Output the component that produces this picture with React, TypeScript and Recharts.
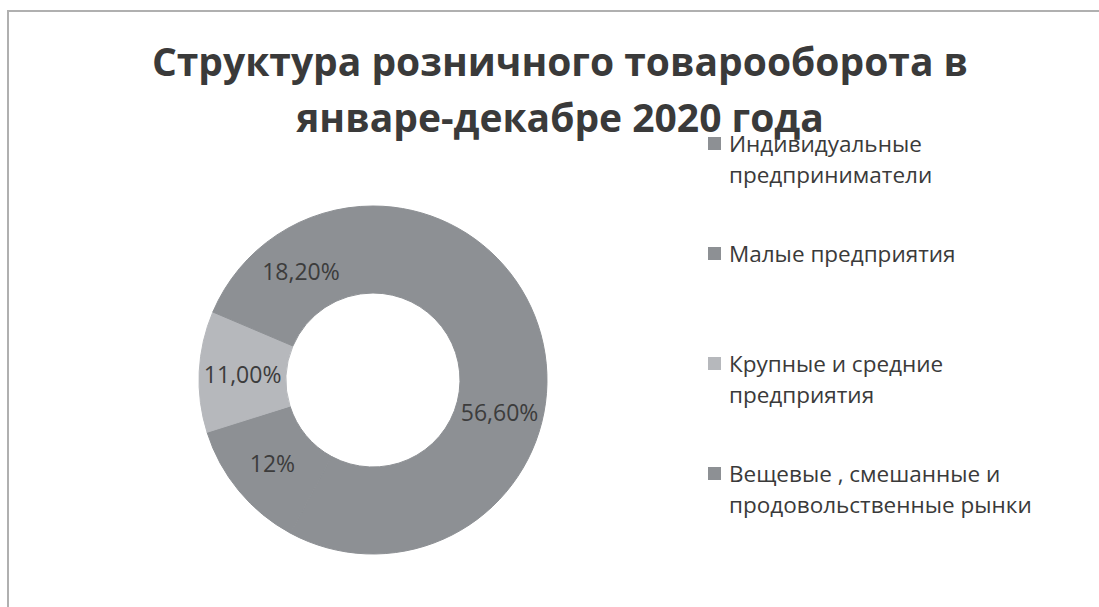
import React from 'react';
import { PieChart, Pie, Cell, Legend } from 'recharts';

const categories = [
  'Индивидуальные\nпредприниматели',
  'Малые предприятия',
  'Крупные и средние\nпредприятия',
  'Вещевые , смешанные и\nпродовольственные рынки',
];
const shares = [56.6, 12, 11, 18.2];
const shareLabels = ['56,60%', '12%', '11,00%', '18,20%'];
const sliceColors = ['#8d9094', '#8d9094', '#b6b8bc', '#8d9094'];
const titleLines = ['Структура розничного товарооборота в', 'январе-декабре 2020 года'];

const data = categories.map((name, i) => ({ name, value: shares[i], label: shareLabels[i] }));

const FONT = '"Open Sans", "Noto Sans", sans-serif';
const RAD = Math.PI / 180;

const renderLabel = (props: any) => {
  const { cx, cy, midAngle, innerRadius, outerRadius, index } = props;
  const r = (innerRadius + outerRadius) / 2;
  const x = cx + r * Math.cos(-midAngle * RAD);
  const y = cy + r * Math.sin(-midAngle * RAD);
  return (
    <text
      x={x}
      y={y}
      textAnchor="middle"
      dominantBaseline="central"
      fill="#3c3c3c"
      fontFamily={FONT}
      fontSize={23}
    >
      {shareLabels[index]}
    </text>
  );
};

const renderLegend = (props: any) => {
  const payload = props.payload || [];
  return (
    <div style={{ position: 'relative', width: 360, height: 420 }}>
      {payload.map((entry: any, i: number) => (
        <div
          key={i}
          style={{
            position: 'absolute',
            left: 0,
            top: i * 110,
            fontFamily: FONT,
            fontSize: 22.5,
            lineHeight: '31px',
            color: '#3a3a3a',
            whiteSpace: 'pre-line',
          }}
        >
          <span
            style={{
              position: 'absolute',
              left: -21,
              top: 9,
              width: 13,
              height: 13,
              background: sliceColors[i],
            }}
          />
          {categories[i]}
        </div>
      ))}
    </div>
  );
};

export default function App() {
  return (
    <div style={{ position: 'absolute', left: 0, top: 0, width: 1099, height: 607, background: '#fff', overflow: 'hidden' }}>
      <div
        style={{
          position: 'absolute',
          left: 7,
          top: 10,
          width: 1100,
          height: 600,
          borderLeft: '2px solid #b0b0b0',
          borderTop: '2px solid #b0b0b0',
        }}
      />
      <div
        style={{
          position: 'absolute',
          left: 0,
          top: 33,
          width: 1120,
          textAlign: 'center',
          fontFamily: FONT,
          fontWeight: 700,
          fontSize: 39,
          lineHeight: '56px',
          color: '#3a3a3a',
        }}
      >
        {titleLines.map((t, i) => (
          <div key={i}>{t}</div>
        ))}
      </div>
      <div style={{ position: 'absolute', left: 0, top: 0 }}>
        <PieChart width={1099} height={607} margin={{ top: 0, right: 0, bottom: 0, left: 0 }}>
          <Pie
            data={data}
            dataKey="value"
            nameKey="name"
            cx={373}
            cy={380}
            innerRadius={87}
            outerRadius={174}
            startAngle={90}
            endAngle={-270}
            label={renderLabel}
            labelLine={false}
            isAnimationActive={false}
          >
            {data.map((_, i) => (
              <Cell key={i} fill={sliceColors[i]} stroke={sliceColors[i]} strokeWidth={1} />
            ))}
          </Pie>
          <Legend
            content={renderLegend}
            layout="vertical"
            verticalAlign="top"
            align="right"
            wrapperStyle={{ position: 'absolute', left: 729, top: 128, width: 360 }}
          />
        </PieChart>
      </div>
    </div>
  );
}
